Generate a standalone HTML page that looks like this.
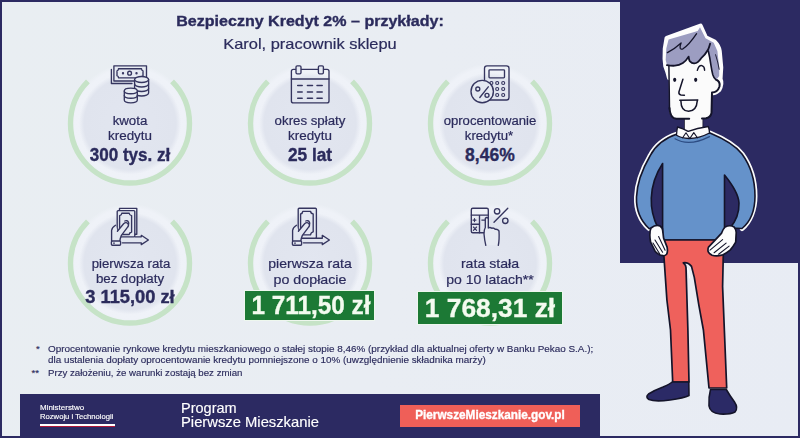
<!DOCTYPE html>
<html><head><meta charset="utf-8">
<style>
*{margin:0;padding:0;box-sizing:border-box}
html,body{width:800px;height:438px;overflow:hidden;background:#e9edf4}
body{position:relative;font-family:"Liberation Sans",sans-serif;color:#2b2b5c}
.abs{position:absolute}
.t{position:absolute;white-space:nowrap;line-height:1;text-align:center;width:200px;-webkit-text-stroke:0.2px currentColor}
.b{font-weight:bold;-webkit-text-stroke:0.35px currentColor}
.l{position:absolute;white-space:nowrap;line-height:1;-webkit-text-stroke:0.15px currentColor}
</style></head><body>
<!-- background -->
<div class="abs" style="left:0;top:0;width:800px;height:438px;background:linear-gradient(100deg,#e9eef2 0%,#e9edf3 50%,#e8ecf4 100%)"></div>
<!-- navy panel right -->
<div class="abs" style="left:620px;top:0;width:180px;height:263px;background:#2c2a62"></div>
<!-- circles -->
<svg class="abs" style="left:0;top:0" width="800" height="438" viewBox="0 0 800 438">
  <defs>
    <radialGradient id="dg" r="0.5">
      <stop offset="0" stop-color="#e2e6f0"/>
      <stop offset="0.9" stop-color="#e0e4ee"/>
      <stop offset="1" stop-color="#e0e4ee" stop-opacity="0"/>
    </radialGradient>
    <radialGradient id="glow" r="0.5">
      <stop offset="0.6" stop-color="#eef1f7"/>
      <stop offset="0.92" stop-color="#eff2f8"/>
      <stop offset="1" stop-color="#eff2f8" stop-opacity="0"/>
    </radialGradient>
    <filter id="blur1"><feGaussianBlur stdDeviation="0.4"/></filter>
  </defs>
  <g fill="url(#glow)"><circle cx="130" cy="123.5" r="60"/><circle cx="310" cy="123.5" r="60"/><circle cx="490" cy="123.5" r="60"/><circle cx="130" cy="263.5" r="60"/><circle cx="310" cy="263.5" r="60"/><circle cx="490" cy="263.5" r="60"/></g>
  <g fill="url(#dg)"><circle cx="130" cy="123.5" r="51"/><circle cx="310" cy="123.5" r="51"/><circle cx="490" cy="123.5" r="51"/><circle cx="130" cy="263.5" r="51"/><circle cx="310" cy="263.5" r="51"/><circle cx="490" cy="263.5" r="51"/></g>
  <g fill="none" stroke="#c6e3c7" stroke-width="5.4" filter="url(#blur1)"><path d="M87.93 81.43 A59.5 59.5 0 1 0 172.07 81.43"/><path d="M267.93 81.43 A59.5 59.5 0 1 0 352.07 81.43"/><path d="M447.93 81.43 A59.5 59.5 0 1 0 532.07 81.43"/><path d="M87.93 221.43 A59.5 59.5 0 1 0 172.07 221.43"/><path d="M267.93 221.43 A59.5 59.5 0 1 0 352.07 221.43"/><path d="M447.93 221.43 A59.5 59.5 0 1 0 532.07 221.43"/></g>
</svg>
<!-- icons -->
<svg class="abs" style="left:0;top:0" width="800" height="438" viewBox="0 0 800 438" fill="none" stroke="#35355f" stroke-width="1.35" stroke-linecap="round" stroke-linejoin="round">
  <!-- icon1 money -->
  <path d="M111.4 69.3 V83.5 H132"/>
  <rect x="113.9" y="65.8" width="32.6" height="15.2" fill="#e6eaf2"/>
  <path d="M118.5 68.7 H141.5 Q141.5 70.5 143 70.8 V75.7 Q141.5 76 141.5 77.8 H118.5 Q118.5 76 117 75.7 V70.8 Q118.5 70.5 118.5 68.7 Z"/>
  <circle cx="129.6" cy="73.2" r="1.9"/>
  <circle cx="123" cy="73.2" r="0.5" fill="#34345f"/>
  <circle cx="136.5" cy="73.2" r="0.5" fill="#34345f"/>
  <g fill="#e6eaf2">
    <path d="M134.6 79.5 V93 A7 3 0 0 0 148.6 93 V79.5"/>
    <ellipse cx="141.6" cy="79.5" rx="7" ry="3"/>
    <path d="M134.6 84 A7 3 0 0 0 148.6 84 M134.6 88.5 A7 3 0 0 0 148.6 88.5" fill="none"/>
    <path d="M124.3 91 V100 A6.5 2.8 0 0 0 137.3 100 V91"/>
    <ellipse cx="130.8" cy="90.9" rx="6.5" ry="2.8"/>
    <path d="M124.3 95.4 A6.5 2.8 0 0 0 137.3 95.4" fill="none"/>
  </g>
  <!-- icon2 calendar -->
  <rect x="291.4" y="69.3" width="37.6" height="33.6" rx="2"/>
  <path d="M291.4 79 H329"/>
  <rect x="296" y="65.8" width="5" height="8" rx="1.2" fill="#e6eaf2"/>
  <rect x="318.4" y="65.8" width="5" height="8" rx="1.2" fill="#e6eaf2"/>
  <path d="M297.7 85.6 H302.2 M307.4 85.6 H312.5 M317 85.6 H322.2 M297.7 92 H302.2 M307.4 92 H312.5 M317 92 H322.2 M297.7 98.3 H302.2 M307.4 98.3 H312.5 M317 98.3 H322.2" stroke-width="1.5"/>
  <!-- icon3 calculator percent -->
  <rect x="484.5" y="65.8" width="24.5" height="34.2" rx="2.5"/>
  <rect x="489" y="69.8" width="15.5" height="8" rx="0.8"/>
  <g stroke-width="1.1">
  <circle cx="491.4" cy="83" r="1.5"/><circle cx="497.2" cy="83" r="1.5"/><circle cx="503.2" cy="83" r="1.5"/>
  <circle cx="491.4" cy="89" r="1.5"/><circle cx="497.2" cy="89" r="1.5"/><circle cx="503.2" cy="89" r="1.5"/>
  <circle cx="491.4" cy="95" r="1.5"/><circle cx="497.2" cy="95" r="1.5"/><circle cx="503.2" cy="95" r="1.5"/>
  </g>
  <circle cx="482.2" cy="91.5" r="11.2" fill="#e4e8f1"/>
  <circle cx="477.8" cy="89" r="2"/><circle cx="487" cy="95.3" r="2"/>
  <path d="M479.8 97.5 L488.3 86.8"/>
  <!-- icon4 hand bills arrow -->
  <g transform="translate(-181 0)">
    <path d="M300.5 210.6 V208.4 H317.8 V234.2 H315.6"/>
    <rect x="298.2" y="210.6" width="17.6" height="26.2" rx="1" fill="#e4e8f1"/>
    <path d="M302.8 213.2 H310.2 Q310.4 215.2 312.6 215.6 V232 Q310.4 232.4 310.2 234.5 H302.8 Q302.6 232.4 300.6 232 V215.6 Q302.6 215.2 302.8 213.2 Z"/>
    <path d="M305.8 221 A2.6 2.6 0 1 1 308.4 225.6"/>
    <path d="M292.6 241.5 V230.5 Q293 227.5 296.5 225.3 L298.6 231 L304.6 223.8 Q306.8 221.6 308.8 223.4 Q310.3 225.2 308.6 227.2 L302.4 235.4 Q301.2 238 300.6 241.5 Z" fill="#e4e8f1" stroke="none"/>
    <path d="M292.6 241 V230.5 Q293 227.5 296.5 225.3 M298.4 231.2 L304.6 223.8 Q306.8 221.6 308.8 223.4 Q310.3 225.2 308.6 227.2 L302.4 235.4 Q301.2 238 300.8 241"/>
    <rect x="292.4" y="241" width="9.2" height="4.2" rx="1" fill="#e4e8f1"/>
    <path d="M294.6 243.1 H295.4"/>
    <path d="M316 236.8 H322.3 V235.3 L329.4 240 L322.3 244.6 V242.8 H303.4"/>
  </g>
  <!-- icon5 -->
  <g transform="translate(0 0)">
    <rect x="298.2" y="208.2" width="18.2" height="30" rx="1" fill="#e4e8f1"/>
    <path d="M302.8 211.4 H310.6 Q310.8 213.6 313.2 214 V231.8 Q310.8 232.2 310.6 234.8 H302.8 Q302.6 232.2 300.6 231.8 V214 Q302.6 213.6 302.8 211.4 Z"/>
    <path d="M305.8 221 A2.6 2.6 0 1 1 308.4 225.6"/>
    <path d="M292.6 241.5 V230.5 Q293 227.5 296.5 225.3 L298.6 231 L304.6 223.8 Q306.8 221.6 308.8 223.4 Q310.3 225.2 308.6 227.2 L302.4 235.4 Q301.2 238 300.6 241.5 Z" fill="#e4e8f1" stroke="none"/>
    <path d="M292.6 241 V230.5 Q293 227.5 296.5 225.3 M298.4 231.2 L304.6 223.8 Q306.8 221.6 308.8 223.4 Q310.3 225.2 308.6 227.2 L302.4 235.4 Q301.2 238 300.8 241"/>
    <rect x="292.4" y="241" width="9.2" height="4.2" rx="1" fill="#e4e8f1"/>
    <path d="M294.6 243.1 H295.4"/>
    <path d="M316 238.2 H322.3 V235.3 L329.4 240 L322.3 244.6 V242.8 H303.4"/>
  </g>
  <!-- icon6 calc hand percent -->
  <rect x="471.3" y="208.2" width="17" height="24.5" rx="1.5"/>
  <path d="M471.3 215.1 H488.3 M479.5 215.1 V232.7 M471.3 224.2 H479.5"/>
  <path d="M473 220.1 H476 M474.5 218.6 V221.6 M481.8 220.1 H485 M473.4 227 L476.6 230.4 M476.6 227 L473.4 230.4" stroke-width="1.1"/>
  <path d="M485.8 245.3 Q484.5 240 484 234 Q483.8 230 485.3 227.5 V218.5 Q486.8 216.5 488.3 218.5 V228 Q490 226.8 491.8 228.3 Q493.7 227.5 495.2 229.3 Q497.5 228.8 499 231 Q499.5 240 498.3 245.3" fill="#e6eaf2"/>
  <circle cx="497.1" cy="211.3" r="2.7"/><circle cx="505.3" cy="220.8" r="2.7"/>
  <path d="M494 222.3 L507.8 208.2"/>
</svg>

<!-- title -->
<div class="t b" style="left:110.40px;top:13.38px;width:400px;font-size:15.26px;transform:scaleX(1.052)">Bezpieczny Kredyt 2% – przykłady:</div>
<div class="t" style="left:110.35px;top:35.90px;width:400px;font-size:15px;transform:scaleX(1.095)">Karol, pracownik sklepu</div>
<!-- circle texts -->
<div class="t" style="left:-70.00px;top:114.64px;width:400px;font-size:12px;transform:scaleX(1.107)">kwota</div>
<div class="t" style="left:-70.00px;top:130.04px;width:400px;font-size:12px;transform:scaleX(1.117)">kredytu</div>
<div class="t b" style="left:-70.30px;top:146.79px;width:400px;font-size:17.5px;transform:scaleX(0.973)">300 tys. zł</div>
<div class="t" style="left:110.00px;top:114.64px;width:400px;font-size:12px;transform:scaleX(1.105)">okres spłaty</div>
<div class="t" style="left:110.00px;top:130.04px;width:400px;font-size:12px;transform:scaleX(1.117)">kredytu</div>
<div class="t b" style="left:110.30px;top:146.79px;width:400px;font-size:17.5px;transform:scaleX(0.987)">25 lat</div>
<div class="t" style="left:290.00px;top:114.64px;width:400px;font-size:12px;transform:scaleX(1.094)">oprocentowanie</div>
<div class="t" style="left:289.20px;top:130.04px;width:400px;font-size:12px;transform:scaleX(1.1)">kredytu*</div>
<div class="t b" style="left:289.90px;top:146.79px;width:400px;font-size:17.5px">8,46%</div>
<div class="t" style="left:-69.00px;top:257.54px;width:400px;font-size:12px;transform:scaleX(1.1)">pierwsza rata</div>
<div class="t" style="left:-69.80px;top:272.74px;width:400px;font-size:12px;transform:scaleX(1.11)">bez dopłaty</div>
<div class="t b" style="left:-70.30px;top:289.46px;width:400px;font-size:17.65px;transform:scaleX(1.036)">3 115,00 zł</div>
<div class="t" style="left:110.20px;top:257.40px;width:400px;font-size:13px;transform:scaleX(1.08)">pierwsza rata</div>
<div class="t" style="left:110.20px;top:272.77px;width:400px;font-size:13.5px;transform:scaleX(1.055)">po dopłacie</div>
<div class="abs" style="left:245px;top:291px;width:129px;height:29px;background:#1c7935;box-shadow:0 0 0 1px #eef7ee"></div>
<div class="t b" style="left:110.80px;top:292.98px;width:400px;font-size:25.3px;transform:scaleX(0.962);color:#f3fbef">1 711,50 zł</div>
<div class="t" style="left:290.10px;top:257.40px;width:400px;font-size:13px;transform:scaleX(1.088)">rata stała</div>
<div class="t" style="left:290.00px;top:273.37px;width:400px;font-size:13.5px;transform:scaleX(1.04)">po 10 latach**</div>
<div class="abs" style="left:418px;top:292px;width:144px;height:32px;background:#1c7935;box-shadow:0 0 0 1px #eef7ee"></div>
<div class="t b" style="left:290.45px;top:295.20px;width:400px;font-size:26.7px;transform:scaleX(0.987);color:#f3fbef">1 768,31 zł</div>
<!-- footnotes -->
<div class="l" style="left:36px;top:343.76px;font-size:9.5px">*</div>
<div class="l" style="left:47.5px;top:343.76px;font-size:9.5px;transform:scaleX(1.0430674177721242);transform-origin:0 0">Oprocentowanie rynkowe kredytu mieszkaniowego o stałej stopie 8,46% (przykład dla aktualnej oferty w Banku Pekao S.A.);</div>
<div class="l" style="left:47.5px;top:354.71px;font-size:9.5px;transform:scaleX(1.0401568254722586);transform-origin:0 0">dla ustalenia dopłaty oprocentowanie kredytu pomniejszone o 10% (uwzględnienie składnika marży)</div>
<div class="l" style="left:31.5px;top:367.71px;font-size:9.5px">**</div>
<div class="l" style="left:47.5px;top:367.71px;font-size:9.5px;transform:scaleX(1.0170555613686303);transform-origin:0 0">Przy założeniu, że warunki zostają bez zmian</div>
<!-- /texts -->
<!-- man -->
<svg class="abs" style="left:0;top:0" width="800" height="438" viewBox="0 0 800 438" stroke-linejoin="round" stroke-linecap="round">
  <!-- white outline silhouettes -->
  <path d="M669.2 78 L667.6 72 L665.5 66 L664.8 58.9 L665 48.6 L666.8 38 L700.5 25.8 L705.8 37.6 L714.6 41.8 Q718.8 46 719.5 51 L721 67.5 L720.3 79 Q722.5 84 719 90 Q716 93 713 93" fill="#fdfdfd" stroke="#fdfdfd" stroke-width="4.5"/>
  <path d="M677 134 C668 137 656 144 650 156 C643 168 637 184 636.5 197 C636 210 641 221 649 228.5 M742 228.5 C750 222 755 210 755 196 C755 180 750 165 742 154 C735 145 722 138 710 133" fill="none" stroke="#fdfdfd" stroke-width="5"/>
  <g stroke="#14142a" stroke-width="1.5">
    <!-- neck -->
    <path d="M684.8 112 L684.8 128.5 M702.4 112 L702.6 128" fill="none"/><rect x="684.8" y="112" width="17.7" height="19" fill="#fbfbfb" stroke="none"/>
    <!-- face -->
    <path d="M668.8 62 L669 109 Q669.5 117.5 676 118.6 L706 118.3 Q710.5 117.5 711.5 113 L712 92.5 Q717.5 92.5 719.5 86.5 Q720.5 81.5 716 79.5 L709 58 Z" fill="#fbfbfb" stroke="none"/>
    <path d="M668.9 66 L669.5 109" fill="none" stroke-width="1.5"/>
    <path d="M669.5 108 Q670 118.5 676.5 118.8 L689.2 118.8 M702 118.4 L706 118.3 Q710.5 117.5 711.5 113 L712 92.5 Q717.5 92.5 719.5 86.5 Q720.5 81.5 716 79.5" fill="none" stroke-width="2"/>
    <!-- hair -->
    <path d="M668.6 39.4 L697.7 31 L700 27.3 L705.5 38.3 L713.7 42.8 L717.4 51 L719.2 67.5 L719.2 76 Q717 79.5 715.6 79.4 Q713.5 77.5 712.8 74.8 L711 65.7 L708.3 51 Q705 56 701 58.4 L694.3 63.4 Q691 62.5 689.7 61.1 L688.6 56.6 Q687.5 59 687.4 58.9 Q685 61.5 682.9 62.9 Q679 65.3 674.9 65.7 L666.9 65.1 L665.7 60 L666.3 48.6 Z" fill="#9c9dc1" stroke="none"/>
    <path d="M666.9 65.1 Q671 65.9 674.9 65.7 Q679 65.3 682.9 62.9 Q686 61 688.6 56.6 Q689 60 689.7 61.1 Q692 63.6 694.3 63.4 Q698 62.8 701 58.4 Q705 55 708.3 49.2 Q709.5 46 710.1 43.7" fill="none" stroke-width="1.8"/>
    <path d="M708.3 51 Q710 58 711 65.7 Q711.8 71 712.8 74.8 Q713.8 78 715.6 79.4" fill="none" stroke-width="1.6"/>
    <path d="M715.6 54.7 Q718 62 719.2 69.3" fill="none" stroke-width="0.9"/>
    <path d="M667.4 52.6 Q675 48.5 681.1 42.9 Q679.5 46.5 680.2 48.2 Q681 49.8 683 48.8 Q689 45 696.6 33.7" fill="none" stroke-width="1.3"/>
    <!-- eyebrow -->
    <path d="M697.3 70.4 Q698.8 65.2 701.9 65.6 Q704.6 66.5 704.6 70.2" fill="none" stroke-width="1.4"/>
    <!-- eyes -->
    <ellipse cx="674.7" cy="79.8" rx="1.6" ry="2.1" fill="#14142a" stroke="none"/>
    <ellipse cx="695.7" cy="79.8" rx="1.6" ry="2.1" fill="#14142a" stroke="none"/>
    <!-- nose -->
    <path d="M682.9 79.2 L678.9 92 Q678.6 94.6 681 94.9 L684.4 95.2" fill="none" stroke-width="1.5"/>
    <!-- mouth -->
    <path d="M679.8 100.3 L697.8 100" fill="none" stroke-width="1.5"/><path d="M680.9 101 Q681 111.3 688.6 111.3 Q696.6 111 697.3 100.6" fill="none" stroke-width="1.5"/>
    <!-- sweater -->
    <path d="M677 134 C668 137 656 144 650 156 C643 168 637 184 636.5 197 C636 210 641 221 649 228.5 L658 228 C654 220 650.8 210 651.3 198 C651.8 185 657 172 662.6 163.5 L662.6 240 L724.5 240 L724.5 175 C731 183 738.5 193 739 203 C739.3 213 736 221 730 228 L742 228.5 C750 222 755 210 755 196 C755 180 750 165 742 154 C735 145 722 138 710 133 Z" fill="#6592ca" stroke-width="1.6"/>
    <!-- collar -->
    <path d="M677.5 127 Q683 128.5 688.2 131.4 Q697 128 708.3 126.5 Q709.5 130 709.5 133 Q699 138.5 689 138.5 Q681 138.2 676.5 135.3 Q676.8 130 677.5 127 Z" fill="#fbfbfb" stroke-width="1.3"/>
    <path d="M682.6 137.8 L686 132.8 L689.3 137.8 M690.3 137.8 L693.8 132.6 L697.4 137.8" fill="none" stroke-width="1.1"/>
    <path d="M675 138.8 Q689 147 709.5 136.6" fill="none" stroke="#2d4d84" stroke-width="1.2"/>
    <!-- pants -->
    <path d="M662.8 240 H723.6 L722.6 286.5 L726.7 388 H709 L703.4 330 L698.8 304.8 L694.3 277.4 L691.5 266.4 Q688 262 683.3 262.8 Q686 265 686 267.4 L687.9 330 L689 382 H672.7 L670.5 330 L666.9 300 Z" fill="#ef615c" stroke-width="1.7"/>
    <path d="M687.4 268 Q689.3 271 689.6 278" fill="none" stroke="#fff" stroke-width="1"/>
    <!-- shoes -->
    <path d="M672.2 382 H688.8 L689 395.5 Q684 398 670 400 Q655 402 649 399.5 Q645 397 648.5 394 Q655 390 663 387 Q670 384 672.2 382 Z" fill="#2b2a66" stroke-width="1.6"/>
    <path d="M710.5 389.5 H726.3 Q730 396 734.5 402 Q738.5 408 735 412 Q730 414.5 720 414 Q710 413 709 406 Q708.5 397 710.5 389.5 Z" fill="#2b2a66" stroke-width="1.6"/>
    <!-- hands -->
    <path d="M651 228 Q656 224 660.1 226 Q662.6 228 662.6 230 L663.6 238.1 L667.1 247.1 Q668 252 666.6 254.2 Q665 256 663.1 255.7 Q658 255 655.1 251.2 L650.6 242.1 Q649.5 236 650 233.1 Q650 230 651 228 Z" fill="#fdfdfd" stroke-width="1.7"/>
    <path d="M653 243 L659.6 253.7 M655 240 L662.6 252.2 M658.6 236.6 L665.1 250.2" fill="none" stroke-width="1.1"/>
    <path d="M725.1 227 Q730 224.5 734.1 227 Q736.5 230 736.2 233.1 L735.7 242.1 Q733 247 730.1 250.1 Q726 253.5 722.1 255.2 Q716 256.5 712.1 255.2 Q708.5 253.5 708 251.1 Q707.8 248.5 708.5 247.1 L715.1 240.1 L721.6 233.1 Q723 229 725.1 227 Z" fill="#fdfdfd" stroke-width="1.7"/>
    <path d="M710 250.1 L722.6 239.6 M714.1 252.7 L726.1 243.1 M718.6 254.2 L729.1 246.1" fill="none" stroke-width="1.1"/>
  </g>
</svg>

<!-- footer -->
<div class="abs" style="left:20px;top:394px;width:580px;height:44px;background:#2c2a62"></div>
<div class="l" style="left:39.6px;top:404.33px;font-size:8px;transform:scaleX(0.9959532374100719);transform-origin:0 0;color:#fff">Ministerstwo</div>
<div class="l" style="left:39.6px;top:413.03px;font-size:8px;transform:scaleX(0.95703125);transform-origin:0 0;color:#fff">Rozwoju i Technologii</div>
<div class="abs" style="left:39.5px;top:424.3px;width:75.7px;height:1.5px;background:#fff"></div>
<div class="abs" style="left:39.5px;top:425.8px;width:75.7px;height:1.5px;background:#b0183a"></div>
<div class="l" style="left:181px;top:399.50px;font-size:15px;transform:scaleX(0.967);transform-origin:0 0;color:#fff">Program</div>
<div class="l" style="left:181px;top:414.30px;font-size:15px;transform:scaleX(0.985);transform-origin:0 0;color:#fff">Pierwsze Mieszkanie</div>
<div class="abs" style="left:400px;top:405px;width:180px;height:22px;background:#ef5f58"></div>
<div class="t b" style="left:290.00px;top:408.82px;width:400px;font-size:12.5px;transform:scaleX(0.9416207710464201);color:#fff">PierwszeMieszkanie.gov.pl</div>
<!-- /footer -->
<!-- border -->
<div class="abs" style="left:0;top:0;width:800px;height:438px;border:2px solid #2c2a62;border-bottom-width:2.5px"></div>
</body></html>
